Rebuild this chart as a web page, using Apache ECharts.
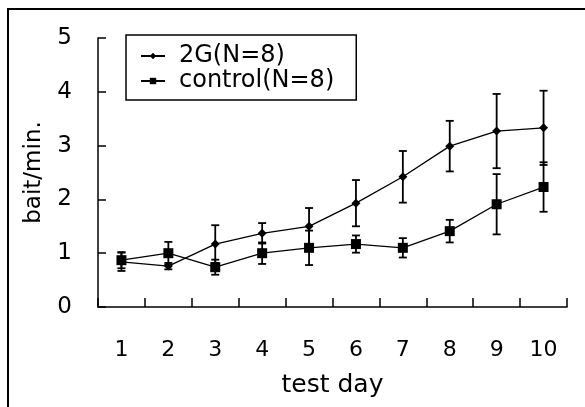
<!DOCTYPE html>
<html>
<head>
<meta charset="utf-8">
<script src="https://cdn.jsdelivr.net/npm/echarts@6/dist/echarts.min.js"></script>
<style>
  html, body { margin: 0; padding: 0; background: #fff; }
  #chart { width: 585px; height: 407px; }
</style>
</head>
<body>
<div id="chart"></div>
<script>
// test days on the x axis
var days = ['1', '2', '3', '4', '5', '6', '7', '8', '9', '10'];

// mean bait/min and error (half bar length) per day
var g2Mean = [0.84, 0.76, 1.17, 1.37, 1.50, 1.93, 2.42, 2.99, 3.27, 3.33];
var g2Err = [0.17, 0.06, 0.35, 0.19, 0.34, 0.43, 0.48, 0.47, 0.69, 0.69];
var ctrlMean = [0.87, 1.00, 0.74, 1.00, 1.10, 1.17, 1.10, 1.41, 1.91, 2.23];
var ctrlErr = [0.15, 0.21, 0.14, 0.20, 0.32, 0.16, 0.18, 0.21, 0.56, 0.46];

var FONT = '"DejaVu Sans", sans-serif';

function errData(mean, err) {
    return mean.map(function (m, i) {
        return [i, m - err[i], m + err[i]];
    });
}

function renderErr(params, api) {
    var lo = api.coord([api.value(0), api.value(1)]),
        hi = api.coord([api.value(0), api.value(2)]),
        w = 4,
        style = { stroke: '#000', lineWidth: 1.8 };
    return {
        type: 'group',
        children: [
            { type: 'line', shape: { x1: hi[0], y1: hi[1], x2: lo[0], y2: lo[1] }, style: style },
            { type: 'line', shape: { x1: hi[0] - w, y1: hi[1], x2: hi[0] + w, y2: hi[1] }, style: style },
            { type: 'line', shape: { x1: lo[0] - w, y1: lo[1], x2: lo[0] + w, y2: lo[1] }, style: style }
        ]
    };
}

var chart = echarts.init(document.getElementById('chart'));
chart.setOption({
    animation: false,
    backgroundColor: '#fff',
    textStyle: { fontFamily: FONT, color: '#000' },
    graphic: [{
        type: 'rect',
        shape: { x: 8, y: 9, width: 700, height: 600 },
        style: { fill: 'none', stroke: '#000', lineWidth: 2 },
        silent: true
    }],
    grid: { left: 98, right: 18, top: 38, bottom: 100 },
    legend: {
        left: 126,
        top: 35,
        orient: 'vertical',
        data: ['2G(N=8)', 'control(N=8)'],
        borderColor: '#000',
        borderWidth: 1.5,
        padding: [9, 22, 7, 14],
        itemGap: 1,
        itemWidth: 24,
        itemHeight: 8,
        textStyle: { fontFamily: FONT, fontSize: 24, color: '#000', padding: [0, 0, 0, 9] }
    },
    xAxis: {
        type: 'category',
        data: days,
        boundaryGap: true,
        name: 'test day',
        nameLocation: 'middle',
        nameGap: 66,
        nameTextStyle: { fontFamily: FONT, fontSize: 25, color: '#000' },
        axisLine: { show: true, lineStyle: { color: '#000', width: 1.5 } },
        axisTick: { show: true, inside: true, length: 9, interval: 0, lineStyle: { color: '#000', width: 1.5 } },
        axisLabel: { fontFamily: FONT, fontSize: 22, color: '#000', margin: 32 },
        splitLine: { show: false }
    },
    yAxis: {
        type: 'value',
        min: 0,
        max: 5,
        interval: 1,
        name: 'bait/min.',
        nameLocation: 'middle',
        nameGap: 52,
        nameTextStyle: { fontFamily: FONT, fontSize: 23, color: '#000' },
        axisLine: { show: true, lineStyle: { color: '#000', width: 1.5 } },
        axisTick: { show: true, inside: true, length: 8, lineStyle: { color: '#000', width: 1.5 } },
        axisLabel: { fontFamily: FONT, fontSize: 23, color: '#000', margin: 26 },
        splitLine: { show: false }
    },
    series: [
        {
            name: '2G(N=8)',
            type: 'line',
            data: g2Mean,
            symbol: 'diamond',
            symbolSize: 9,
            itemStyle: { color: '#000' },
            lineStyle: { color: '#000', width: 1.3 },
            z: 3
        },
        {
            name: 'control(N=8)',
            type: 'line',
            data: ctrlMean,
            symbol: 'rect',
            symbolSize: 10,
            itemStyle: { color: '#000' },
            lineStyle: { color: '#000', width: 1.3 },
            z: 3
        },
        {
            name: '2G err',
            type: 'custom',
            renderItem: renderErr,
            data: errData(g2Mean, g2Err),
            encode: { x: 0, y: [1, 2] },
            z: 2
        },
        {
            name: 'control err',
            type: 'custom',
            renderItem: renderErr,
            data: errData(ctrlMean, ctrlErr),
            encode: { x: 0, y: [1, 2] },
            z: 2
        }
    ]
});
</script>
</body>
</html>
